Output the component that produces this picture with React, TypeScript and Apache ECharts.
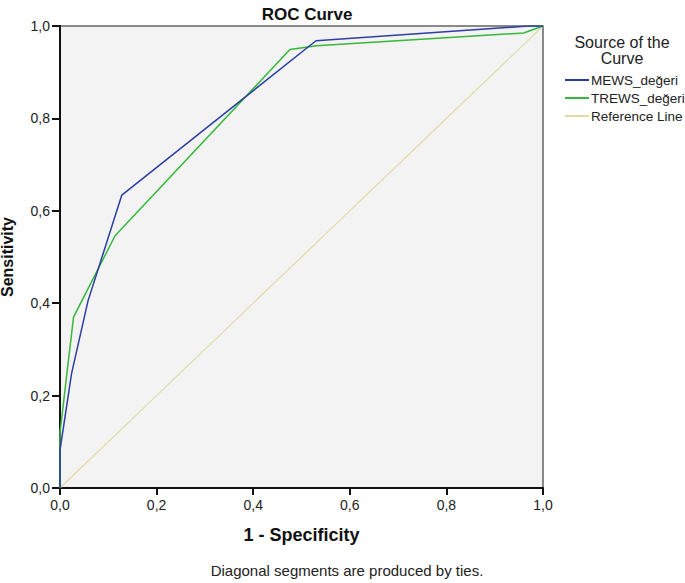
import React, { useEffect, useRef } from "react";
import * as echarts from "echarts";

const seriesNames = ["MEWS_değeri", "TREWS_değeri", "Reference Line"];
const mewsX = [0, 0, 0.024, 0.058, 0.128, 0.53, 0.97, 1];
const mewsY = [0, 0.082, 0.248, 0.405, 0.634, 0.968, 1.0, 1];
const trewsX = [0, 0, 0.028, 0.114, 0.476, 0.531, 0.96, 1];
const trewsY = [0, 0.12, 0.37, 0.546, 0.949, 0.957, 0.985, 1];
const refX = [0, 1];
const refY = [0, 1];

const pair = (xs: number[], ys: number[]) => xs.map((x, i) => [x, ys[i]]);
const fmt = (v: number) => v.toFixed(1).replace(".", ",");
const FONT = "Liberation Sans, Arial, sans-serif";

export default function App() {
  const ref = useRef<HTMLDivElement>(null);
  useEffect(() => {
    const chart = echarts.init(ref.current!, null, { renderer: "svg" });
    chart.setOption({
      animation: false,
      backgroundColor: "#ffffff",
      textStyle: { fontFamily: FONT },
      title: {
        text: "ROC Curve",
        left: 302,
        textAlign: "center",
        top: 1,
        textStyle: { fontSize: 17, fontWeight: "bold", color: "#111", fontFamily: FONT },
      },
      grid: {
        left: 60,
        right: 142,
        top: 26,
        bottom: 95,
        show: true,
        backgroundColor: "#f3f3f3",
        borderColor: "#666",
        borderWidth: 1.5,
        outerBoundsMode: "none",
        containLabel: false,
      },
      xAxis: {
        type: "value",
        min: 0,
        max: 1,
        interval: 0.2,
        name: "1 - Specificity",
        nameLocation: "middle",
        nameGap: 38,
        nameTextStyle: { fontSize: 18, fontWeight: "bold", color: "#111", fontFamily: FONT },
        axisLine: { show: true, lineStyle: { color: "#111", width: 2 } },
        axisTick: { show: true, length: 7, lineStyle: { color: "#111", width: 2 } },
        axisLabel: { formatter: fmt, fontSize: 14, color: "#222", margin: 10, fontFamily: FONT },
        splitLine: { show: false },
      },
      yAxis: {
        type: "value",
        min: 0,
        max: 1,
        interval: 0.2,
        name: "Sensitivity",
        nameLocation: "middle",
        nameGap: 45,
        nameTextStyle: { fontSize: 16, fontWeight: "bold", color: "#111", fontFamily: FONT },
        axisLine: { show: true, lineStyle: { color: "#111", width: 2 } },
        axisTick: { show: true, length: 8, lineStyle: { color: "#111", width: 2 } },
        axisLabel: { formatter: fmt, fontSize: 14, color: "#222", margin: 10, fontFamily: FONT },
        splitLine: { show: false },
      },
      legend: {
        orient: "vertical",
        left: 560,
        top: 67,
        itemWidth: 24,
        itemHeight: 2,
        itemGap: 2,
        icon: "rect",
        textStyle: { fontSize: 13.5, lineHeight: 16, color: "#222", fontFamily: FONT, padding: [0, 0, 0, -3] },
        data: seriesNames,
      },
      graphic: [
        {
          type: "text",
          x: 622,
          y: 34,
          style: {
            text: "Source of the\nCurve",
            fontSize: 16,
            fontFamily: FONT,
            fill: "#222",
            align: "center",
            lineHeight: 16,
          },
        },
        {
          type: "text",
          x: 347,
          y: 563,
          style: {
            text: "Diagonal segments are produced by ties.",
            fontSize: 15,
            fontFamily: FONT,
            fill: "#222",
            align: "center",
          },
        },
      ],
      series: [
        {
          name: seriesNames[0],
          type: "line",
          data: pair(mewsX, mewsY),
          symbol: "none",
          lineStyle: { color: "#2a3ea3", width: 1.5 },
          itemStyle: { color: "#2a3ea3" },
          z: 4,
        },
        {
          name: seriesNames[1],
          type: "line",
          data: pair(trewsX, trewsY),
          symbol: "none",
          lineStyle: { color: "#36b83a", width: 1.5 },
          itemStyle: { color: "#36b83a" },
          z: 3,
        },
        {
          name: seriesNames[2],
          type: "line",
          data: pair(refX, refY),
          symbol: "none",
          lineStyle: { color: "#e0dba6", width: 1.2 },
          itemStyle: { color: "#e0dba6" },
          z: 2,
        },
      ],
    });
    return () => chart.dispose();
  }, []);
  return <div ref={ref} style={{ width: 685, height: 583, position: "absolute", left: 0, top: 0 }} />;
}
